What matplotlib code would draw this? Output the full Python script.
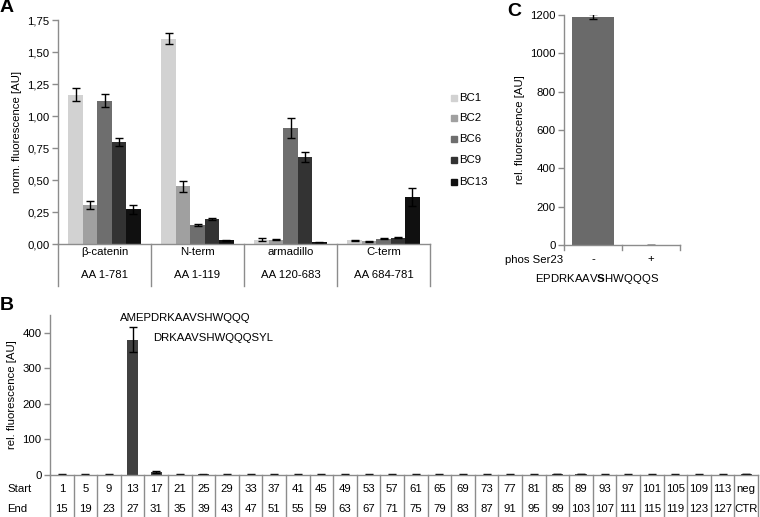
import matplotlib

matplotlib.use("Agg")
import matplotlib.pyplot as plt
from matplotlib.patches import Rectangle

plt.rcParams["font.family"] = ["Liberation Sans", "DejaVu Sans"]
plt.rcParams["mathtext.fontset"] = "custom"
plt.rcParams["mathtext.rm"] = "Liberation Sans"
plt.rcParams["mathtext.bf"] = "Liberation Sans:bold"

# --- panel A data ---
groups = ["β-catenin", "N-term", "armadillo", "C-term"]
group_ranges = ["AA 1-781", "AA 1-119", "AA 120-683", "AA 684-781"]
series = ["BC1", "BC2", "BC6", "BC9", "BC13"]
series_colors = ["#d2d2d2", "#a0a0a0", "#6e6e6e", "#333333", "#101010"]
a_values = [
    [1.165, 1.605, 0.035, 0.030],  # BC1
    [0.305, 0.450, 0.035, 0.020],  # BC2
    [1.120, 0.150, 0.905, 0.040],  # BC6
    [0.795, 0.195, 0.680, 0.050],  # BC9
    [0.270, 0.030, 0.012, 0.370],  # BC13
]
a_errors = [
    [0.050, 0.040, 0.008, 0.004],
    [0.030, 0.045, 0.007, 0.003],
    [0.050, 0.010, 0.080, 0.004],
    [0.030, 0.008, 0.040, 0.005],
    [0.035, 0.005, 0.004, 0.070],
]

# --- panel B data ---
b_start = [str(s) for s in range(1, 114, 4)] + ["neg"]
b_end = [str(s + 14) for s in range(1, 114, 4)] + ["CTR"]
b_values = [1, 1, 1, 380, 8, 1, 2, 1, 1, 1, 1, 1, 1, 1, 1,
            1, 1, 1, 1, 1, 1, 2, 2, 1, 1, 1, 1, 1, 1, 2]
b_errors = [0.5, 0.5, 0.5, 35, 2, 0.5, 1, 0.5, 0.5, 0.5, 0.5, 0.5, 0.5, 0.5, 0.5,
            0.5, 0.5, 0.5, 0.5, 0.5, 0.5, 0.5, 0.5, 0.5, 0.5, 0.5, 0.5, 0.5, 0.5, 0.5]

# --- panel C data ---
c_labels = ["-", "+"]
c_values = [1192, 0]
c_errors = [14, 0]

W, H = 760, 517
fig = plt.figure(figsize=(W / 100, H / 100), dpi=100)
SP = "#8c8c8c"
FS = 8.2


def px_axes(left, top, right, bottom):
    return fig.add_axes([left / W, 1 - bottom / H, (right - left) / W, (bottom - top) / H])


def style(ax):
    for s in ["top", "right"]:
        ax.spines[s].set_visible(False)
    for s in ["left", "bottom"]:
        ax.spines[s].set_color(SP)
        ax.spines[s].set_linewidth(1.0)
    ax.tick_params(axis="y", direction="out", length=4, width=1, color=SP, labelsize=FS, pad=2)
    ax.tick_params(axis="x", bottom=False, labelbottom=False)


def fy(y):
    return 1 - y / H


def fx(x):
    return x / W


# ---------------- panel A ----------------
axA = px_axes(58, 20, 430, 244)
style(axA)
bw = 0.155
for i, (name, vals, errs, col) in enumerate(zip(series, a_values, a_errors, series_colors)):
    xs = [g + (i - 2) * bw for g in range(len(groups))]
    axA.bar(xs, vals, width=bw, color=col, yerr=errs, capsize=3,
            error_kw=dict(ecolor="black", elinewidth=1, capthick=1))
axA.set_xlim(-0.5, len(groups) - 0.5)
axA.set_ylim(0, 1.75)
axA.set_yticks([0, 0.25, 0.5, 0.75, 1.0, 1.25, 1.5, 1.75])
axA.set_yticklabels([f"{v:.2f}".replace(".", ",") for v in axA.get_yticks()])
axA.set_ylabel("norm. fluorescence [AU]", fontsize=FS, labelpad=4)
for k in range(len(groups) + 1):
    axA.plot([k - 0.5, k - 0.5], [0, -0.33], color=SP, lw=1, clip_on=False)
for k, (g, r) in enumerate(zip(groups, group_ranges)):
    axA.text(k, -0.065, g, ha="center", va="center", fontsize=FS)
    axA.text(k, -0.24, r, ha="center", va="center", fontsize=FS)

# legend
leg_y = [98, 118, 139, 160, 182]
for name, col, y in zip(series, series_colors, leg_y):
    fig.patches.append(Rectangle((fx(451), fy(y + 3)), 6 / W, 6 / H, color=col,
                                 transform=fig.transFigure))
    fig.text(fx(459), fy(y), name, fontsize=FS, va="center", ha="left")

# ---------------- panel C ----------------
axC = px_axes(564, 15, 680, 245)
style(axC)
axC.bar(range(len(c_labels)), c_values, width=0.71, color="#6a6a6a", yerr=c_errors,
        capsize=3, error_kw=dict(ecolor="black", elinewidth=1, capthick=1))
axC.set_xlim(-0.5, len(c_labels) - 0.5)
axC.set_ylim(0, 1200)
axC.set_yticks(range(0, 1201, 200))
axC.set_ylabel("rel. fluorescence [AU]", fontsize=FS, labelpad=4)
for k in range(len(c_labels) + 1):
    axC.plot([k - 0.5, k - 0.5], [0, -25], color=SP, lw=1, clip_on=False)
for k, lab in enumerate(c_labels):
    axC.text(k, -75, lab, ha="center", va="center", fontsize=FS)
fig.text(fx(563), fy(260), "phos Ser23", ha="right", va="center", fontsize=FS)
fig.text(fx(597), fy(279), r"EPDRKAAV$\mathbf{S}$HWQQQS", ha="center", va="center", fontsize=FS)

# ---------------- panel B ----------------
axB = px_axes(50, 315, 758, 475)
style(axB)
n = len(b_start)
axB.bar(range(n), b_values, width=0.47, color="#404040", yerr=b_errors, capsize=3,
        error_kw=dict(ecolor="black", elinewidth=1, capthick=1))
axB.set_xlim(-0.5, n - 0.5)
axB.set_ylim(0, 450)
axB.set_yticks(range(0, 401, 100))
axB.set_ylabel("rel. fluorescence [AU]", fontsize=FS, labelpad=4)
for k in range(n + 1):
    axB.plot([k - 0.5, k - 0.5], [0, -120], color=SP, lw=1, clip_on=False)
for k, (s, e) in enumerate(zip(b_start, b_end)):
    axB.text(k, -39, s, ha="center", va="center", fontsize=FS)
    axB.text(k, -96, e, ha="center", va="center", fontsize=FS)
fig.text(fx(7), fy(489), "Start", ha="left", va="center", fontsize=FS)
fig.text(fx(7), fy(509), "End", ha="left", va="center", fontsize=FS)
fig.text(fx(120), fy(318), "AMEPDRKAAVSHWQQQ", ha="left", va="center", fontsize=FS)
fig.text(fx(153), fy(338), "DRKAAVSHWQQQSYL", ha="left", va="center", fontsize=FS)

# panel letters
fig.text(fx(0), fy(8), "A", fontsize=14, fontweight="bold", va="center", ha="left")
fig.text(fx(0), fy(305), "B", fontsize=14, fontweight="bold", va="center", ha="left")
fig.text(fx(507), fy(12), "C", fontsize=14, fontweight="bold", va="center", ha="left")

fig.savefig("out.png", dpi=100)
